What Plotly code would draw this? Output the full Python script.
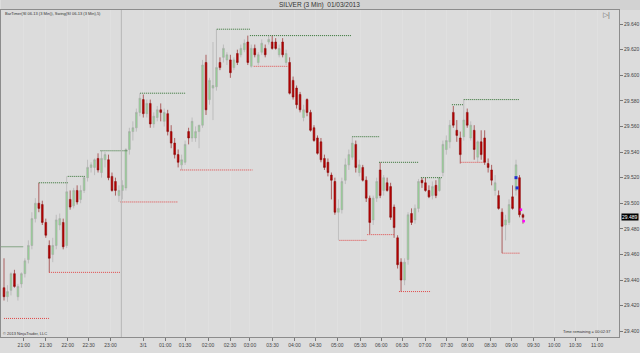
import plotly.graph_objects as go

# ---- data ----
opens = [29.434,29.427,29.432,29.445,29.427,29.437,29.445,29.456,29.467,29.488,
         29.500,29.499,29.485,29.467,29.460,29.467,29.483,29.485,29.467,29.503,
         29.498,29.510,29.503,29.510,29.520,29.528,29.528,29.535,29.524,29.534,
         29.534,29.521,29.517,29.506,29.510,29.512,29.542,29.556,29.559,29.571,
         29.581,29.570,29.578,29.562,29.567,29.573,29.564,29.570,29.556,29.547,
         29.538,29.530,29.532,29.556,29.551,29.551,29.556,29.561,29.610,29.581,
         29.590,29.591,29.610,29.614,29.612,29.612,29.606,29.617,29.616,29.620,
         29.626,29.607,29.621,29.610,29.618,29.621,29.626,29.626,29.626,29.616,
         29.626,29.610,29.610,29.596,29.590,29.585,29.567,29.581,29.571,29.559,
         29.551,29.548,29.535,29.532,29.522,29.517,29.493,29.495,29.518,29.530,
         29.536,29.546,29.524,29.528,29.518,29.504,29.487,29.504,29.526,29.510,
         29.516,29.513,29.497,29.473,29.454,29.440,29.456,29.492,29.487,29.496,
         29.518,29.516,29.510,29.506,29.514,29.510,29.524,29.542,29.548,29.571,
         29.557,29.551,29.552,29.571,29.551,29.557,29.536,29.548,29.551,29.531,
         29.526,29.510,29.506,29.493,29.483,29.485,29.505,29.510,29.520,29.491]
highs = [29.457,29.436,29.446,29.448,29.437,29.446,29.457,29.471,29.493,29.504,
         29.516,29.502,29.488,29.471,29.473,29.491,29.492,29.488,29.521,29.510,
         29.512,29.514,29.514,29.521,29.534,29.532,29.535,29.539,29.541,29.540,
         29.538,29.524,29.520,29.514,29.518,29.543,29.559,29.564,29.574,29.586,
         29.585,29.581,29.581,29.571,29.576,29.578,29.574,29.573,29.561,29.551,
         29.542,29.538,29.549,29.559,29.567,29.560,29.561,29.612,29.616,29.598,
         29.626,29.636,29.614,29.624,29.618,29.616,29.614,29.620,29.624,29.628,
         29.631,29.624,29.624,29.618,29.628,29.624,29.631,29.631,29.629,29.624,
         29.629,29.620,29.614,29.599,29.592,29.587,29.577,29.582,29.573,29.561,
         29.553,29.551,29.538,29.535,29.524,29.520,29.503,29.520,29.535,29.542,
         29.552,29.549,29.534,29.530,29.521,29.506,29.506,29.520,29.532,29.522,
         29.520,29.516,29.499,29.475,29.457,29.457,29.493,29.496,29.499,29.519,
         29.520,29.520,29.514,29.517,29.518,29.520,29.549,29.553,29.565,29.576,
         29.565,29.556,29.581,29.574,29.564,29.561,29.549,29.557,29.557,29.535,
         29.530,29.522,29.510,29.496,29.491,29.503,29.514,29.534,29.522,29.492]
lows = [29.424,29.423,29.428,29.434,29.424,29.434,29.442,29.453,29.464,29.485,
        29.493,29.483,29.473,29.446,29.454,29.464,29.479,29.464,29.465,29.495,
        29.496,29.499,29.500,29.508,29.517,29.524,29.522,29.524,29.520,29.528,
        29.518,29.509,29.506,29.501,29.503,29.510,29.538,29.549,29.556,29.568,
        29.567,29.567,29.559,29.559,29.564,29.564,29.560,29.553,29.543,29.535,
        29.528,29.526,29.530,29.546,29.548,29.548,29.543,29.559,29.569,29.577,
        29.565,29.588,29.604,29.610,29.608,29.598,29.604,29.608,29.614,29.618,
        29.608,29.606,29.614,29.608,29.616,29.614,29.624,29.620,29.620,29.614,
        29.614,29.608,29.585,29.581,29.574,29.571,29.564,29.568,29.556,29.548,
        29.538,29.532,29.526,29.521,29.503,29.491,29.471,29.492,29.515,29.526,
        29.534,29.524,29.521,29.517,29.501,29.476,29.483,29.501,29.504,29.506,
        29.509,29.487,29.473,29.449,29.431,29.436,29.452,29.483,29.484,29.493,
        29.512,29.509,29.504,29.503,29.504,29.509,29.521,29.538,29.543,29.559,
        29.548,29.531,29.549,29.559,29.549,29.534,29.532,29.534,29.530,29.524,
        29.514,29.506,29.495,29.461,29.471,29.483,29.495,29.506,29.489,29.484]
closes = [29.427,29.431,29.445,29.435,29.435,29.445,29.455,29.467,29.488,29.500,
          29.496,29.485,29.475,29.457,29.467,29.487,29.488,29.466,29.509,29.497,
          29.510,29.501,29.510,29.520,29.528,29.530,29.534,29.526,29.535,29.538,
          29.520,29.510,29.510,29.510,29.514,29.542,29.556,29.559,29.571,29.582,
          29.570,29.578,29.562,29.568,29.573,29.571,29.571,29.556,29.547,29.538,
          29.532,29.534,29.546,29.551,29.564,29.556,29.561,29.608,29.573,29.596,
          29.592,29.606,29.606,29.621,29.616,29.602,29.612,29.610,29.621,29.625,
          29.610,29.621,29.616,29.616,29.625,29.616,29.628,29.621,29.621,29.621,
          29.616,29.617,29.586,29.583,29.577,29.573,29.573,29.571,29.557,29.549,
          29.539,29.534,29.528,29.524,29.518,29.493,29.496,29.517,29.530,29.538,
          29.547,29.528,29.530,29.518,29.504,29.485,29.504,29.517,29.506,29.520,
          29.510,29.489,29.481,29.452,29.440,29.454,29.491,29.485,29.496,29.517,
          29.516,29.510,29.505,29.513,29.506,29.520,29.546,29.549,29.561,29.561,
          29.553,29.538,29.565,29.561,29.561,29.542,29.548,29.538,29.532,29.528,
          29.518,29.516,29.496,29.482,29.487,29.499,29.496,29.530,29.491,29.489]

# swing levels: (start bar, end bar, price)
swing_high_start = [-1, 10, 18.3, 27.7, 39.1, 61.1, 70.6, 100, 107.7, 119.7, 128.6, 132]
swing_high_end   = [5.5, 18.3, 23.4, 35.4, 52, 70.6, 99.7, 107.7, 119.1, 125.7, 132, 148]
swing_high_level = [29.466, 29.516, 29.521, 29.541, 29.586, 29.636, 29.631, 29.552, 29.532, 29.520, 29.577, 29.581]
swing_low_start = [0, 12.9, 33.4, 50.6, 71.7, 96.3, 104.3, 113.4, 131.1, 143.1]
swing_low_end   = [12.9, 33.4, 50, 71.4, 82, 104.3, 112, 122.6, 137.7, 148]
swing_low_level = [29.410, 29.446, 29.501, 29.526, 29.607, 29.471, 29.4755, 29.431, 29.532, 29.461]

tick_labels = ["21:00","21:30","22:00","22:30","23:00","3/1","01:00","01:30","02:00","02:30",
               "03:00","03:30","04:00","04:30","05:00","05:30","06:00","06:30","07:00","07:30",
               "08:00","08:30","09:00","09:30","10:00","10:30","11:00"]
tick_pos = [5.7,12.0,18.3,24.3,30.6,40.0,46.3,52.0,58.6,64.9,70.6,77.1,83.4,89.4,95.7,
            102.3,108.3,114.3,120.9,127.1,133.1,139.7,145.7,152.0,158.0,164.0,170.3]
y_ticks = [29.40,29.42,29.44,29.46,29.48,29.50,29.52,29.54,29.56,29.58,29.60,29.62,29.64]

blue_marks_x = [147, 147.3]
blue_marks_y = [29.520, 29.512]
pink_marks_x = [148.4, 149.2]
pink_marks_y = [29.495, 29.486]

last_price = 29.489
session_break = 33.7

x = list(range(len(closes)))
FONT = "Liberation Sans, Arial, sans-serif"
BG = "#dcdcdc"

fig = go.Figure()
fig.add_trace(go.Candlestick(
    x=x, open=opens, high=highs, low=lows, close=closes,
    increasing=dict(line=dict(color="#a8a8a8", width=0.6), fillcolor="#93d493"),
    decreasing=dict(line=dict(color="#8a0a0a", width=0.6), fillcolor="#b80000"),
    whiskerwidth=0, showlegend=False, hoverinfo="skip"))

def seg(starts, ends, levels):
    xs, ys = [], []
    for s, e, v in zip(starts, ends, levels):
        xs += [s, e, None]
        ys += [v, v, None]
    return xs, ys

hx, hy = seg(swing_high_start, swing_high_end, swing_high_level)
lx, ly = seg(swing_low_start, swing_low_end, swing_low_level)
fig.add_trace(go.Scatter(x=hx, y=hy, mode="lines",
                         line=dict(color="#2f6f2f", width=1, dash="1px,1px"),
                         showlegend=False, hoverinfo="skip"))
fig.add_trace(go.Scatter(x=lx, y=ly, mode="lines",
                         line=dict(color="#e04848", width=1, dash="1px,1px"),
                         showlegend=False, hoverinfo="skip"))
fig.add_trace(go.Scatter(x=blue_marks_x, y=blue_marks_y, mode="markers",
                         marker=dict(color="#1f2fd0", size=3, symbol="square"),
                         showlegend=False, hoverinfo="skip"))
fig.add_trace(go.Scatter(x=pink_marks_x, y=pink_marks_y, mode="markers",
                         marker=dict(color="#ff00ff", size=2.5, symbol="square"),
                         showlegend=False, hoverinfo="skip"))

fig.update_layout(
    width=640, height=353,
    margin=dict(l=0, r=19, t=10, b=16),
    paper_bgcolor=BG, plot_bgcolor=BG,
    font=dict(family=FONT, size=5, color="#333333"),
    xaxis=dict(range=[-0.86, 176.57], tickvals=tick_pos, ticktext=tick_labels,
               ticks="outside", ticklen=3, tickcolor="#777777",
               tickfont=dict(size=5, color="#444444"),
               showgrid=True, gridcolor="#e0e0e0", gridwidth=1,
               zeroline=False, showline=True, linecolor="#8c8c8c", mirror=True,
               rangeslider=dict(visible=False), fixedrange=True),
    yaxis=dict(range=[29.3955, 29.651], side="right", tickvals=y_ticks,
               tickformat=".3f", ticks="outside", ticklen=3, tickcolor="#777777",
               tickfont=dict(size=5, color="#444444"),
               showgrid=False, zeroline=False, showline=True, linecolor="#8c8c8c",
               mirror=True),
    shapes=[
        dict(type="rect", xref="paper", yref="paper", x0=0, x1=1.04, y0=1.0, y1=1.04,
             fillcolor="#d2d2d2", line=dict(width=0), layer="below"),
        dict(type="line", xref="x", yref="paper", x0=session_break, x1=session_break,
             y0=0, y1=1, line=dict(color="#b8b8b8", width=1)),
    ],
    annotations=[
        dict(text="SILVER (3 Min)  01/03/2013", xref="paper", yref="paper",
             x=0.515, y=1.016, xanchor="center", yanchor="middle", showarrow=False,
             font=dict(size=6.5, color="#333333")),
        dict(text="BarTimer(SI 06-13 (3 Min)), Swing(SI 06-13 (3 Min),5)", xref="paper",
             yref="paper", x=0.003, y=0.988, xanchor="left", yanchor="middle",
             showarrow=False, font=dict(size=4, color="#333333")),
        dict(text="© 2013 NinjaTrader, LLC", xref="paper", yref="paper",
             x=0.0, y=0.012, xanchor="left", yanchor="middle", showarrow=False,
             font=dict(size=4, color="#333333")),
        dict(text="Time remaining = 00:02:37", xref="paper", yref="paper",
             x=0.99, y=0.016, xanchor="right", yanchor="middle", showarrow=False,
             font=dict(size=4, color="#333333")),
        dict(text="▷|", xref="paper", yref="paper", x=0.988, y=0.985,
             xanchor="right", yanchor="middle", showarrow=False,
             font=dict(size=7, color="#666666")),
        dict(text="29.489", xref="paper", yref="y", x=1.0, y=last_price,
             xanchor="left", yanchor="middle", xshift=2, showarrow=False,
             bgcolor="#000000", font=dict(size=5, color="#ffffff"), borderpad=0),
    ],
)

fig.write_html("out.html")
